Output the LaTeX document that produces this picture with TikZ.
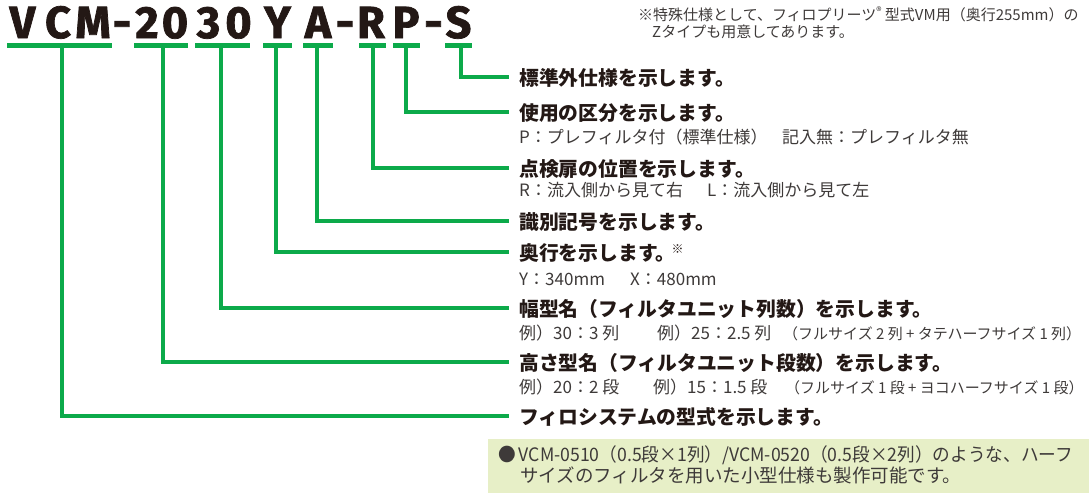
\documentclass[tikz,border=0pt]{standalone}
\usepackage{fontspec}
\newfontfamily\jp{Noto Sans CJK JP}
\newfontfamily\ttl{Fira Sans}[BoldFeatures={FakeBold=1.6}]
\definecolor{grn}{RGB}{12,170,74}
\definecolor{ink}{HTML}{231815}
\definecolor{inks}{HTML}{3E3A39}
\definecolor{boxbg}{RGB}{231,239,199}
\begin{document}
\begin{tikzpicture}[x=1pt,y=-1pt,
  ttlch/.style={anchor=base,inner sep=0,text=ink,font=\ttl\bfseries\fontsize{45}{45}\selectfont},
  hd/.style={anchor=base west,inner sep=0,text=ink,font=\jp\bfseries\fontsize{19.8}{19.8}\selectfont},
  sub/.style={anchor=base west,inner sep=0,text=inks,font=\jp\fontsize{17}{17}\selectfont},
  subs/.style={anchor=base west,inner sep=0,text=inks,font=\jp\fontsize{15}{15}\selectfont},
  note/.style={anchor=base west,inner sep=0,text=inks,font=\jp\fontsize{15}{15}\selectfont},
  boxt/.style={anchor=base west,inner sep=0,text=inks,font=\jp\fontsize{18.5}{18.5}\selectfont},
  uline/.style={draw=grn,line width=4.6pt},
  lead/.style={draw=grn,line width=3.4pt}]
\useasboundingbox (0,0) rectangle (1089,499);
% title
\node[ttlch] (tV) at (22.5,38) {V};
\node[ttlch] (tC) at (58,38) {C};
\node[ttlch] (tM) at (93,38) {M};
\node[ttlch] (td1) at (122,38) {-};
\node[ttlch] (t2) at (147,38) {2};
\node[ttlch] (t0a) at (175,38) {0};
\node[ttlch] (t3) at (208.5,38) {3};
\node[ttlch] (t0b) at (238.5,38) {0};
\node[ttlch] (tY) at (277.5,38) {Y};
\node[ttlch] (tA) at (318,38) {A};
\node[ttlch] (td2) at (345,38) {-};
\node[ttlch] (tR) at (371,38) {R};
\node[ttlch] (tP) at (406,38) {P};
\node[ttlch] (td3) at (433.5,38) {-};
\node[ttlch] (tS) at (458.5,38) {S};
% underlines
\coordinate (uVa) at (7,45.5);   \coordinate (uVb) at (112,45.5);
\coordinate (u2a) at (134,45.5); \coordinate (u2b) at (188,45.5);
\coordinate (u3a) at (195,45.5); \coordinate (u3b) at (250,45.5);
\coordinate (uYa) at (263,45.5); \coordinate (uYb) at (292,45.5);
\coordinate (uAa) at (303,45.5); \coordinate (uAb) at (333,45.5);
\coordinate (uRa) at (359,45.5); \coordinate (uRb) at (386,45.5);
\coordinate (uPa) at (393,45.5); \coordinate (uPb) at (420,45.5);
\coordinate (uSa) at (445,45.5); \coordinate (uSb) at (472,45.5);
\foreach \k in {V,2,3,Y,A,R,P,S}{\draw[uline] (u\k a) -- (u\k b);}
% heading labels
\node[hd] (lS) at (519,85) {標準外仕様を示します。};
\node[hd] (lP) at (519,120) {使用の区分を示します。};
\node[hd] (lR) at (519,176) {点検扉の位置を示します。};
\node[hd] (lA) at (519,229) {識別記号を示します。};
\node[hd] (lY) at (519,260) {奥行を示します。\kern-4pt\raisebox{7pt}{\fontsize{12}{12}\selectfont\mdseries ※}};
\node[hd] (l3) at (519,316) {幅型名（フィルタユニット列数）を示します。};
\node[hd] (l2) at (519,370) {高さ型名（フィルタユニット段数）を示します。};
\node[hd] (lV) at (519,424) {フィロシステムの型式を示します。};
% leader start points
\coordinate (vS) at (461,45.5);
\coordinate (vP) at (406,45.5);
\coordinate (vR) at (373,45.5);
\coordinate (vA) at (317,45.5);
\coordinate (vY) at (276,45.5);
\coordinate (v3) at (221,45.5);
\coordinate (v2) at (163,45.5);
\coordinate (vV) at (62,45.5);
\foreach \k in {S,P,R,A,Y,3,2,V}{
  \draw[lead] (v\k) |- ([xshift=-10pt,yshift=8pt]l\k.base west);}
% sub texts
\node[sub] (sP1) at (519,143) {P：プレフィルタ付（標準仕様）};
\node[sub] (sP2) at (782,143) {記入無：プレフィルタ無};
\node[sub] (sR1) at (519,196) {R：流入側から見て右};
\node[sub] (sR2) at (707,196) {L：流入側から見て左};
\node[sub] (sY1) at (519,285) {Y：340mm};
\node[sub] (sY2) at (630,285) {X：480mm};
\node[sub] (s31) at (519,339) {例）30：3 列};
\node[sub] (s32) at (657,339) {例）25：2.5 列};
\node[subs] (s33) at (783,339) {（フルサイズ 2 列 + タテハーフサイズ 1 列）};
\node[sub] (s21) at (519,393) {例）20：2 段};
\node[sub] (s22) at (653,393) {例）15：1.5 段};
\node[subs] (s23) at (785,393) {（フルサイズ 1 段 + ヨコハーフサイズ 1 段）};
% top note
\node[note] (n1) at (638,20) {※特殊仕様として、フィロプリーツ\raisebox{5pt}{\fontsize{11}{11}\selectfont ®} 型式VM用（奥行255mm）の};
\node[note] (n2) at (652,37) {Zタイプも用意してあります。};
% bottom box
\fill[boxbg] (488,439) rectangle (1089,493);
\node[boxt] (b1) at (498,461) {\scalebox{0.955}[1]{●\,VCM-0510（0.5段×1列）/VCM-0520（0.5段×2列）のような、ハーフ}};
\node[boxt] (b2) at (520,482) {サイズのフィルタを用いた小型仕様も製作可能です。};
\end{tikzpicture}
\end{document}
